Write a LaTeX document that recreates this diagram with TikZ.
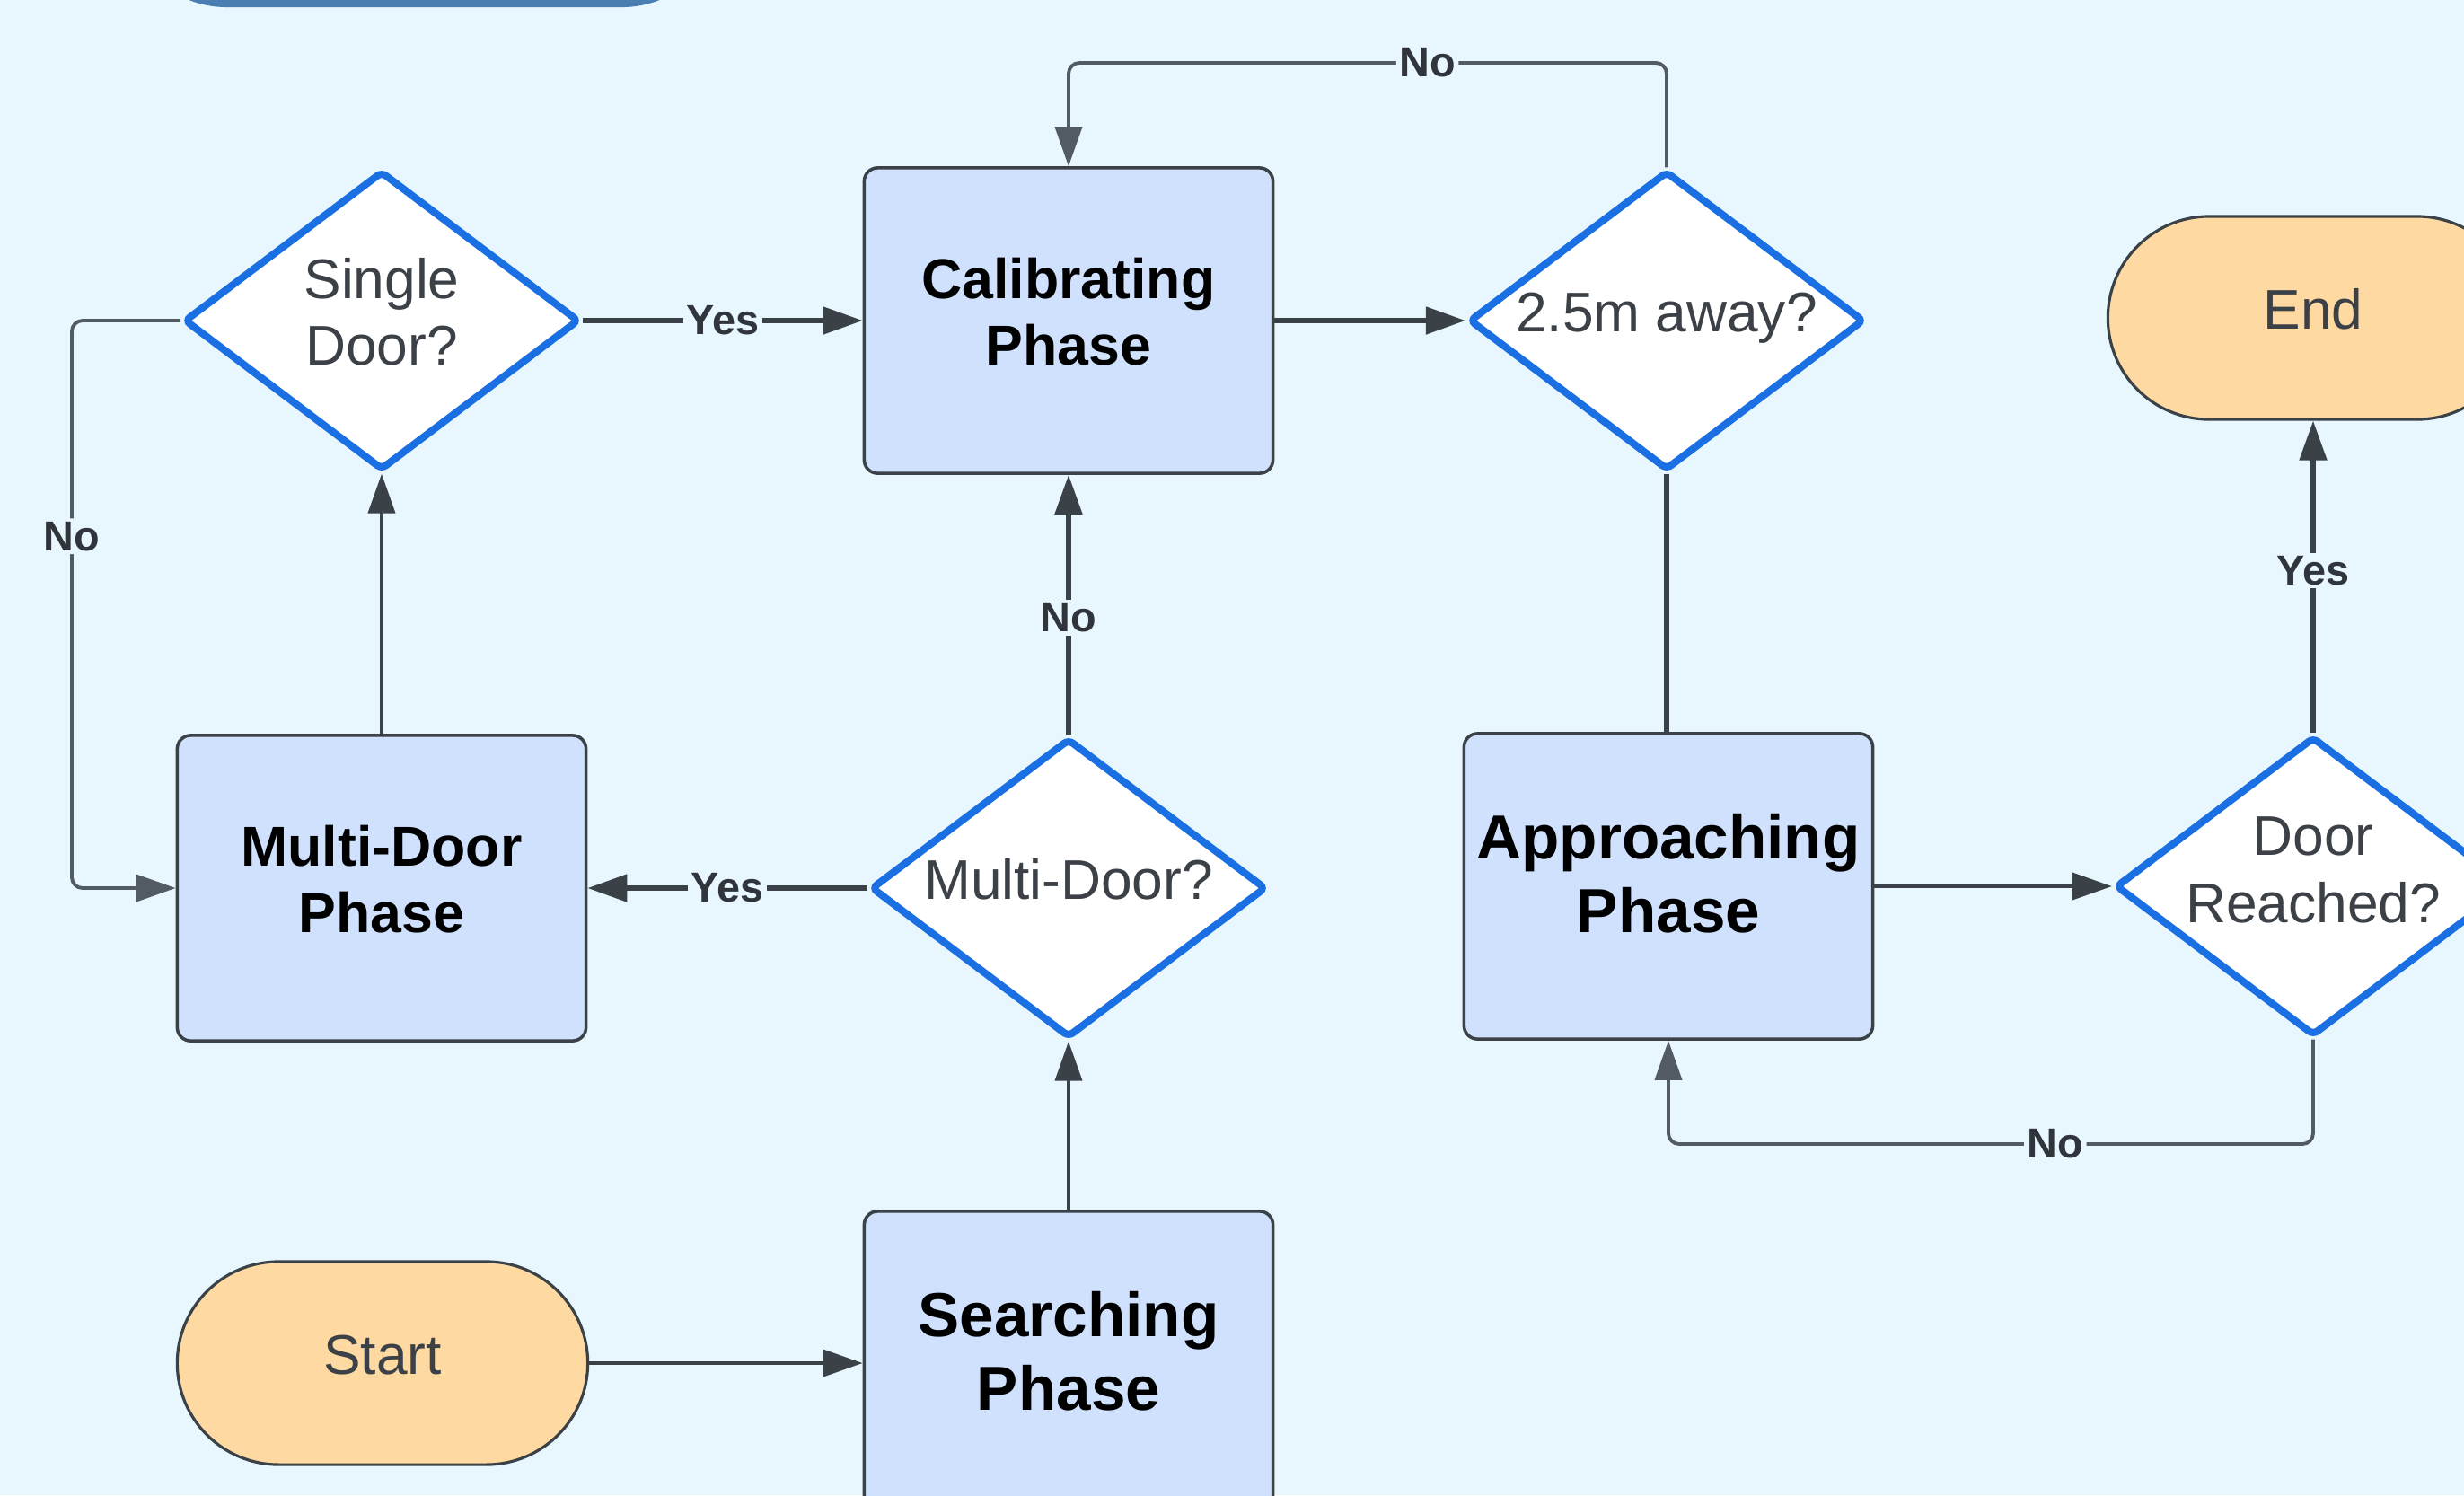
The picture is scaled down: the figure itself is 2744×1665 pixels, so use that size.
\documentclass[tikz,border=0pt]{standalone}
\usepackage{fontspec}
\setmainfont{Liberation Sans}
\usetikzlibrary{shapes.geometric,arrows.meta}
\definecolor{bg}{HTML}{E8F6FE}
\definecolor{boxfill}{HTML}{CFE1FC}
\definecolor{pillfill}{HTML}{FFD9A2}
\definecolor{dblue}{HTML}{1A6FE3}
\definecolor{edgecol}{HTML}{3A4147}
\definecolor{edgelight}{HTML}{525A62}
\definecolor{txtcol}{HTML}{3B4147}
\definecolor{lblcol}{HTML}{2F353B}
\definecolor{topfill}{HTML}{4A7DB1}
\newcommand\ctext[2][-3.6pt]{\smash{\makebox[0pt]{\raisebox{#1}{\begin{tabular}{@{}c@{}}#2\end{tabular}}}}}
\begin{document}
\begin{tikzpicture}[x=0.01cm,y=-0.01cm,
  phase/.style={draw=edgecol, line width=1pt, fill=boxfill, rounded corners=0.15cm,
    minimum width=4.55cm, minimum height=3.40cm, inner sep=0pt, text=black,
    font=\fontsize{17.8}{21.3}\selectfont\bfseries},
  bigphase/.style={phase, font=\fontsize{19.7}{23.3}\selectfont\bfseries},
  decision/.style={diamond, draw=dblue, line width=2.3pt, fill=white, rounded corners=0.06cm,
    minimum width=4.40cm, minimum height=3.33cm, inner sep=0pt, text=txtcol,
    font=\fontsize{17.7}{21.3}\selectfont},
  pill/.style={draw=edgecol, line width=0.9pt, fill=pillfill, rounded corners=1.13cm,
    minimum width=4.57cm, minimum height=2.26cm, inner sep=0pt, text=txtcol,
    font=\fontsize{17.7}{21.3}\selectfont},
  topbar/.style={fill=topfill, rounded corners=1.15cm, minimum width=6.69cm,
    minimum height=2.30cm, inner sep=0pt},
  arr/.style={draw=edgecol, line width=1.5pt, -{Triangle[length=0.44cm,width=0.30cm]}},
  arrthin/.style={draw=edgecol, line width=1.1pt, -{Triangle[length=0.44cm,width=0.30cm]}},
  looparr/.style={draw=edgelight, line width=1.1pt, rounded corners=0.12cm,
    -{Triangle[length=0.44cm,width=0.30cm]}},
  plainline/.style={draw=edgecol, line width=1.5pt},
  elabel/.style={fill=bg, inner sep=1pt, text=lblcol,
    font=\fontsize{13.3}{16}\selectfont\bfseries}
]
\clip (0,0) rectangle (2744,1665);
\fill[bg] (0,0) rectangle (2744,1665);
\node[topbar] (topbar) at (472.5,-107) {};

% nodes
\node[decision] (single) at (425,357) {\ctext{Single\\Door?}};
\node[phase] (cal) at (1190,357) {\ctext{Calibrating\\Phase}};
\node[decision] (dist) at (1856,357) {\ctext{2.5m away?}};
\node[pill] (endn) at (2576,354) {\ctext{End}};
\node[phase] (mdp) at (425,989) {\ctext{Multi-Door\\Phase}};
\node[decision] (mdq) at (1190,989) {\ctext{Multi-Door?}};
\node[bigphase] (app) at (1858,987) {\ctext{Approaching\\Phase}};
\node[decision] (reach) at (2576,987) {\ctext[-0.8pt]{Door\\Reached?}};
\node[pill] (start) at (426,1518) {\ctext{Start}};
\node[bigphase] (search) at (1190,1519) {\ctext{Searching\\Phase}};

% helper coordinates for loops
\coordinate (lx) at (80,0);
\coordinate (ty) at (0,70);
\coordinate (by) at (0,1274);

% connectors
\draw[arrthin] (start.east) -- (start.east -| search.west);
\draw[arrthin] (search) -- (mdq);
\draw[arr] (mdq) -- node[elabel,pos=0.45]{No} (cal);
\draw[arr] (mdq) -- node[elabel]{Yes} (mdp);
\draw[arrthin] (mdp) -- (single);
\draw[arr] (single) -- node[elabel]{Yes} (cal);
\draw[arr] (cal) -- (dist);
\draw[plainline] (dist) -- (dist.south |- app.north);
\draw[arrthin] (app) -- (reach);
\draw[arr] (reach) -- node[elabel,pos=0.52]{Yes} (endn);

\draw[looparr] (single.west) -- (single.west -| lx) |- node[elabel,pos=0.19]{No} (mdp.west);
\draw[looparr] (dist.north) -- (dist.north |- ty) -| node[elabel,pos=0.2]{No} (cal.north);
\draw[looparr] (reach.south) -- (reach.south |- by) -| node[elabel,pos=0.2]{No} (app.south);
\end{tikzpicture}
\end{document}
